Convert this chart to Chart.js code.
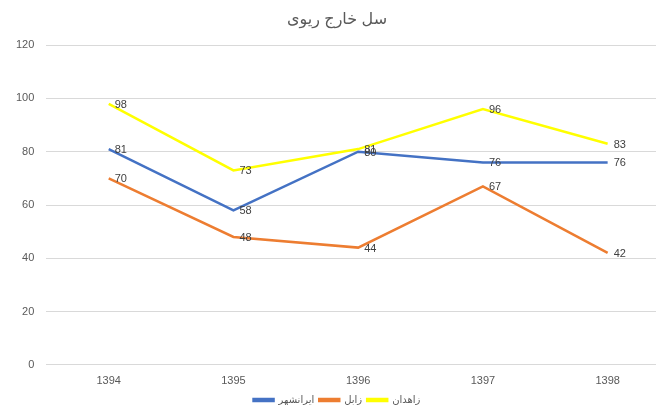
<!DOCTYPE html>
<html>
<head>
    <title>سل خارج ریوی</title>
    <script src="https://cdn.jsdelivr.net/npm/chart.js@4"></script>
    <style type="text/css">
        html, body {
            margin: 0;
            padding: 0;
            background-color: #ffffff;
            overflow: hidden;
        }
        #wrap {
            width: 670px;
            height: 405px;
        }
    </style>
</head>
<body>
    <div id="wrap"><canvas id="chartTb"></canvas></div>
    <script>
        const years = ["1394", "1395", "1396", "1397", "1398"];
        const iranshahr = [81, 58, 80, 76, 76];
        const zabol = [70, 48, 44, 67, 42];
        const zahedan = [98, 73, 81, 96, 83];

        const fontFamily = "'Liberation Sans', 'DejaVu Sans', sans-serif";

        // draws the value next to each point, like the excel labels
        const valueLabels = {
            id: 'valueLabels',
            afterDatasetsDraw(chart) {
                let ctx = chart.ctx;
                ctx.save();
                ctx.font = "11px " + fontFamily;
                ctx.fillStyle = "#404040";
                ctx.textAlign = "left";
                ctx.textBaseline = "middle";
                chart.data.datasets.forEach(function(ds, i) {
                    let meta = chart.getDatasetMeta(i);
                    meta.data.forEach(function(pt, j) {
                        ctx.fillText(ds.data[j], pt.x + 6, pt.y + 1);
                    });
                });
                ctx.restore();
            }
        };

        window.onload = function() {
            let ctx = document.getElementById('chartTb').getContext('2d');
            new Chart(ctx, {
                type: 'line',
                data: {
                    labels: years,
                    datasets: [{
                        label: 'ایرانشهر',
                        data: iranshahr,
                        borderColor: '#4472C4',
                        backgroundColor: '#4472C4'
                    }, {
                        label: 'زابل',
                        data: zabol,
                        borderColor: '#ED7D31',
                        backgroundColor: '#ED7D31'
                    }, {
                        label: 'زاهدان',
                        data: zahedan,
                        borderColor: '#FFFF00',
                        backgroundColor: '#FFFF00'
                    }]
                },
                options: {
                    responsive: true,
                    maintainAspectRatio: false,
                    animation: false,
                    elements: {
                        point: { radius: 0 },
                        line: { borderWidth: 2.5, tension: 0 }
                    },
                    layout: {
                        padding: { left: 4, right: 0, top: 6, bottom: -10 }
                    },
                    plugins: {
                        title: {
                            display: true,
                            text: 'سل خارج ریوی',
                            color: '#595959',
                            font: { family: fontFamily, size: 16, weight: 'normal' },
                            padding: { top: 4, bottom: 16 }
                        },
                        legend: {
                            position: 'bottom',
                            labels: {
                                color: '#595959',
                                font: { family: fontFamily, size: 10 },
                                boxWidth: 20,
                                boxHeight: 2,
                                padding: 5
                            }
                        },
                        tooltip: { enabled: false }
                    },
                    scales: {
                        x: {
                            offset: true,
                            grid: { display: false },
                            border: { display: false },
                            ticks: {
                                color: '#595959',
                                font: { family: fontFamily, size: 11 },
                                padding: 2
                            }
                        },
                        y: {
                            min: 0,
                            max: 120,
                            grid: { color: '#d9d9d9', drawTicks: false },
                            border: { display: false },
                            ticks: {
                                stepSize: 20,
                                color: '#595959',
                                font: { family: fontFamily, size: 11 },
                                padding: 12
                            }
                        }
                    }
                },
                plugins: [valueLabels]
            });
        }
    </script>
</body>
</html>
